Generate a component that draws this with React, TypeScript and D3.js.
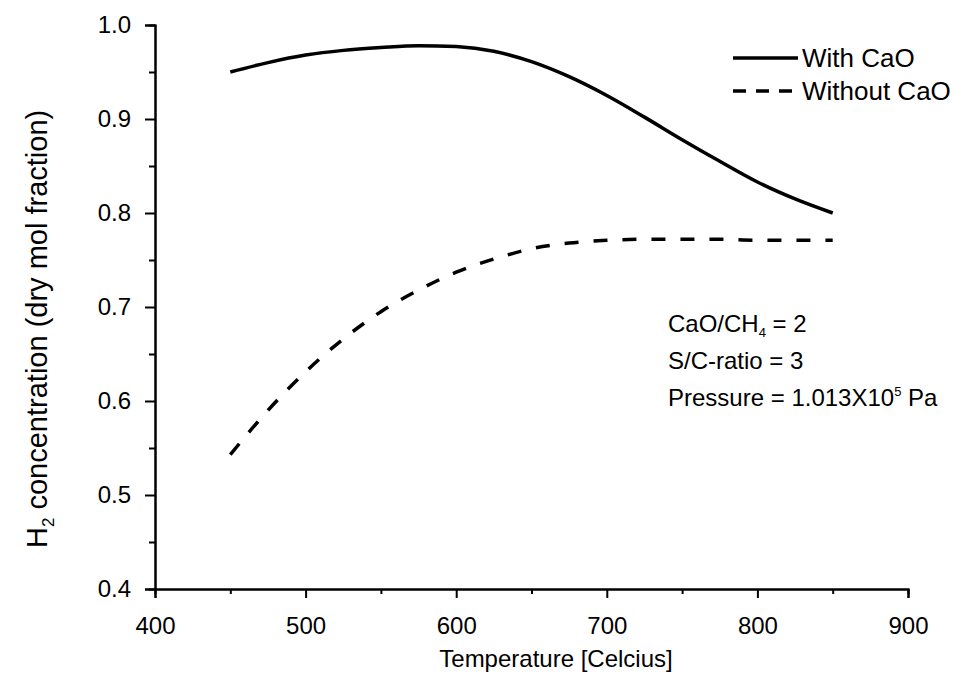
import React, { useEffect, useRef } from 'react';
import * as d3 from 'd3';

// temperatures in Celcius
const temps = [450, 475, 500, 525, 550, 575, 600, 625, 650, 675, 700, 725, 750, 775, 800, 825, 850];
// H2 dry mol fraction, with CaO sorbent
const withCaO = [0.95, 0.96, 0.968, 0.973, 0.976, 0.978, 0.977, 0.972, 0.961, 0.945, 0.925, 0.902, 0.878, 0.855, 0.833, 0.815, 0.8];
// H2 dry mol fraction, without CaO
const withoutCaO = [0.543, 0.59, 0.631, 0.666, 0.695, 0.718, 0.737, 0.751, 0.762, 0.768, 0.771, 0.772, 0.772, 0.772, 0.771, 0.771, 0.771];

const xTicks = [400, 500, 600, 700, 800, 900];
const yTicks = [0.4, 0.5, 0.6, 0.7, 0.8, 0.9, 1.0];

const series = [
  { name: 'With CaO', values: withCaO, dash: null },
  { name: 'Without CaO', values: withoutCaO, dash: '14,15' },
];

const FONT = 'Liberation Sans, Arial, sans-serif';

const App = () => {
  const svgRef = useRef(null);

  useEffect(() => {
    const width = 975;
    const height = 676;
    const margin = { top: 25, right: 67, bottom: 87, left: 155 };

    const svg = d3.select(svgRef.current);
    svg.selectAll('*').remove();

    const x = d3.scaleLinear().domain([400, 900]).range([margin.left, width - margin.right]);
    const y = d3.scaleLinear().domain([0.4, 1.0]).range([height - margin.bottom, margin.top]);

    // x axis, major + minor ticks
    const gx = svg.append('g').attr('transform', `translate(0,${height - margin.bottom})`);
    gx.call(d3.axisBottom(x).tickValues(xTicks).tickSize(9).tickPadding(19).tickFormat(d3.format('d')));
    gx.append('g').call(d3.axisBottom(x).tickValues(d3.range(450, 900, 100)).tickSize(5).tickFormat(() => ''));

    // y axis
    const gy = svg.append('g').attr('transform', `translate(${margin.left},0)`);
    gy.call(d3.axisLeft(y).tickValues(yTicks).tickSize(10).tickPadding(14).tickFormat(d3.format('.1f')));
    gy.append('g').call(d3.axisLeft(y).tickValues(d3.range(0.45, 1.0, 0.1)).tickSize(6).tickFormat(() => ''));

    svg.selectAll('.domain').attr('stroke', '#000').attr('stroke-width', 2);
    svg.selectAll('.tick line').attr('stroke', '#000').attr('stroke-width', 2);
    svg.selectAll('.tick text')
      .attr('font-family', FONT)
      .attr('font-size', 24)
      .attr('fill', '#000');

    // curves
    const line = d3.line()
      .x((d, i) => x(temps[i]))
      .y(d => y(d))
      .curve(d3.curveMonotoneX);

    series.forEach(s => {
      svg.append('path')
        .datum(s.values)
        .attr('fill', 'none')
        .attr('stroke', '#000')
        .attr('stroke-width', 3.5)
        .attr('stroke-dasharray', s.dash)
        .attr('d', line);
    });

    // legend
    const legend = svg.append('g').attr('transform', 'translate(733,58)');
    series.forEach((s, i) => {
      const row = legend.append('g').attr('transform', `translate(0,${i * 33})`);
      row.append('line')
        .attr('x1', 0).attr('x2', 65)
        .attr('stroke', '#000')
        .attr('stroke-width', 3.5)
        .attr('stroke-dasharray', s.dash ? '13,10' : null);
      row.append('text')
        .attr('x', 69)
        .attr('dy', '0.35em')
        .attr('font-family', FONT)
        .attr('font-size', 26)
        .text(s.name);
    });

    // conditions note
    const nx = 668;
    const note = svg.append('text')
      .attr('font-family', FONT)
      .attr('font-size', 24);
    const l1 = note.append('tspan').attr('x', nx).attr('y', 332);
    l1.append('tspan').text('CaO/CH');
    l1.append('tspan').attr('font-size', 13).attr('dy', 5).text('4');
    l1.append('tspan').attr('dy', -5).text(' = 2');
    note.append('tspan').attr('x', nx).attr('y', 369).text('S/C-ratio = 3');
    const l3 = note.append('tspan').attr('x', nx).attr('y', 406);
    l3.append('tspan').text('Pressure = 1.013X10');
    l3.append('tspan').attr('font-size', 13).attr('dy', -10).text('5');
    l3.append('tspan').attr('dy', 10).text(' Pa');

    // axis titles
    svg.append('text')
      .attr('x', 556)
      .attr('y', 667)
      .attr('text-anchor', 'middle')
      .attr('font-family', FONT)
      .attr('font-size', 24)
      .text('Temperature [Celcius]');

    const yl = svg.append('text')
      .attr('transform', 'translate(47,548) rotate(-90)')
      .attr('font-family', FONT)
      .attr('font-size', 29);
    yl.append('tspan').text('H');
    yl.append('tspan').attr('font-size', 17).attr('dy', 7).text('2');
    yl.append('tspan').attr('dy', -7).text(' concentration (dry mol fraction)');
  }, []);

  return (
    <svg
      ref={svgRef}
      width={975}
      height={676}
      style={{ position: 'absolute', left: 0, top: 0, background: '#fff' }}
    />
  );
};

export default App;
